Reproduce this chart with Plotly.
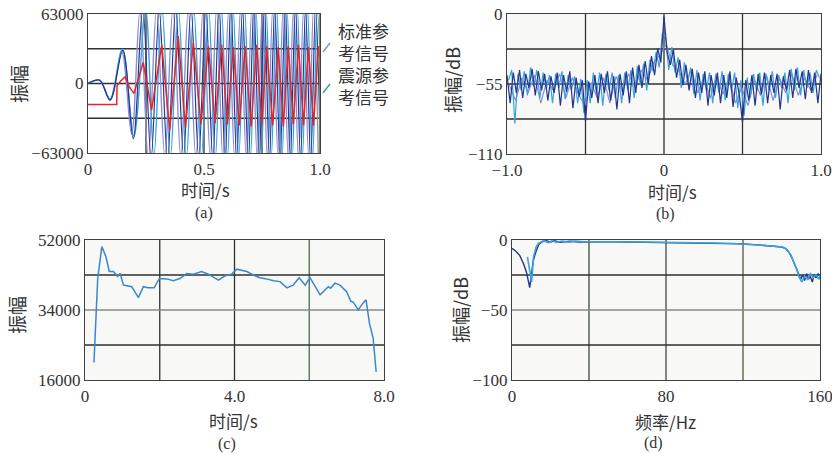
import numpy as np
import plotly.graph_objects as go

W, H = 832, 454

# ---------------- Panel (a): time series ----------------
red_t = [0, 0.124, 0.125, 0.140, 0.160, 0.178, 0.198, 0.238, 0.274, 0.318, 0.352, 0.389, 0.420, 0.454,
         0.487, 0.519, 0.548, 0.576, 0.601, 0.626, 0.652, 0.677, 0.703, 0.727, 0.749, 0.770, 0.796,
         0.820, 0.842, 0.863, 0.885, 0.907, 0.929, 0.950, 0.972, 0.993, 1.0]
red_v = [-19000, -19000, -2000, 2000, 6000, -3000, -9000, 19000, -24000, 35000, -42000, 43000, -40000,
         37000, -37000, 34000, -36000, 35000, -37000, 33000, -38000, 34000, -39000, 35000, -37000, 34000,
         -38000, 33000, -39000, 34000, -37000, 35000, -38000, 33000, -38000, 34000, 20000]

dark_t = [0, 0.05, 0.095, 0.150, 0.195, 0.236, 0.272, 0.307, 0.343, 0.378, 0.412, 0.444, 0.477, 0.508,
          0.538, 0.565, 0.591, 0.616, 0.641, 0.666, 0.691, 0.715, 0.738, 0.760, 0.782, 0.805, 0.828,
          0.850, 0.872, 0.894, 0.916, 0.938, 0.960, 0.981, 1.002]
dark_v = [0, 3000, -15000, 30000, -50000, 68000, -67000, 66000, -68000, 67000, -66000, 68000, -67000,
          66000, -68000, 67000, -66000, 68000, -67000, 66000, -68000, 67000, -66000, 68000, -67000,
          66000, -68000, 67000, -66000, 68000, -67000, 66000, -68000, 67000, -66000]

light_t = [0, 0.05, 0.095, 0.148, 0.198, 0.248, 0.284, 0.319, 0.355, 0.390, 0.424, 0.456, 0.489, 0.520,
           0.549, 0.576, 0.601, 0.626, 0.650, 0.675, 0.700, 0.724, 0.747, 0.768, 0.790, 0.813, 0.836,
           0.858, 0.880, 0.902, 0.924, 0.946, 0.968, 0.989, 1.010]
light_v = [0, 3000, -14000, 31000, -48000, 67000, -66000, 68000, -67000, 66000, -68000, 67000, -66000,
           68000, -67000, 66000, -68000, 67000, -66000, 68000, -67000, 66000, -68000, 67000, -66000,
           68000, -67000, 66000, -68000, 67000, -66000, 68000, -67000, 66000, -68000]

lav_t = [0, 0.05, 0.095, 0.145, 0.188, 0.224, 0.260, 0.295, 0.331, 0.366, 0.400, 0.432, 0.465, 0.496,
         0.527, 0.554, 0.581, 0.606, 0.632, 0.657, 0.682, 0.706, 0.729, 0.751, 0.773, 0.796, 0.819,
         0.841, 0.863, 0.885, 0.907, 0.929, 0.951, 0.972, 0.993]
lav_v = [0, 3000, -15000, 29000, -46000, 66000, -68000, 67000, -66000, 68000, -67000, 66000, -68000,
         67000, -66000, 68000, -67000, 66000, -68000, 67000, -66000, 68000, -67000, 66000, -68000,
         67000, -66000, 68000, -67000, 66000, -68000, 67000, -66000, 68000, -67000]

legend_a = ["标准参<br>考信号", "震源参<br>考信号"]

# ---------------- Panel (b): correlation in dB ----------------
b_dark_v = [-48, -70, -46, -62, -44, -66, -47, -58, -43, -64, -45, -60, -47, -68, -49, -62, -46, -72,
            -48, -61, -45, -74, -50, -65, -52, -84, -53, -66, -48, -70, -47, -62, -45, -68, -49, -75,
            -47, -64, -45, -70, -42, -62, -40, -58, -37, -55, -33, -48, -27, -38, -2, -30, -40, -28,
            -50, -36, -56, -40, -60, -43, -66, -46, -62, -45, -72, -48, -64, -46, -70, -48, -66, -45,
            -73, -50, -64, -85, -52, -68, -48, -72, -47, -63, -46, -70, -48, -62, -47, -75, -49, -60,
            -44, -66, -43, -58, -45, -67, -44, -62, -46, -70, -47]
b_light_v = [-52, -44, -86, -47, -60, -45, -64, -42, -57, -44, -66, -46, -59, -48, -70, -47, -58, -45,
             -67, -48, -60, -49, -70, -51, -78, -52, -70, -46, -63, -46, -72, -47, -60, -46, -66, -48,
             -70, -46, -60, -44, -66, -41, -56, -39, -60, -36, -45, -30, -42, -15, -18, -44, -26, -46,
             -34, -58, -38, -54, -42, -63, -44, -68, -47, -60, -46, -70, -47, -62, -45, -68, -47, -60,
             -46, -74, -52, -80, -50, -66, -47, -61, -46, -72, -47, -60, -45, -66, -48, -58, -46, -70,
             -43, -60, -42, -64, -44, -58, -46, -62, -44, -50]
b_lav_v = [-56, -68, -50, -62, -48, -70, -52, -60, -47, -66, -50, -63, -72, -54, -66, -50, -70, -49,
           -61, -47, -58, -44, -52, -38, -32, -24, -40, -45, -55, -44, -62, -50, -66, -49, -63, -50,
           -70, -58, -72, -51, -64, -49, -68, -50, -62, -47, -64, -50, -60, -48]
b_dark_t = np.round(np.linspace(-1.0, 1.0, len(b_dark_v)), 3)
b_light_t = np.round(np.linspace(-0.99, 0.99, len(b_light_v)), 3)
b_lav_t = np.round(np.linspace(-0.985, 0.975, len(b_lav_v)), 3)

# ---------------- Panel (c): envelope ----------------
c_t = [0.24, 0.29, 0.34, 0.45, 0.56, 0.65, 0.76, 0.87, 0.94, 1.03, 1.25, 1.43, 1.56, 1.69, 1.85, 1.99,
       2.19, 2.36, 2.54, 2.72, 2.90, 3.12, 3.30, 3.57, 3.75, 3.92, 4.06, 4.33, 4.50, 4.68, 4.86, 5.04,
       5.22, 5.40, 5.57, 5.73, 5.89, 6.02, 6.15, 6.29, 6.51, 6.57, 6.69, 6.82, 7.00, 7.11, 7.18, 7.31,
       7.43, 7.52, 7.61, 7.67, 7.71, 7.79]
c_v = [20500, 30200, 42100, 50300, 47700, 43900, 43900, 42600, 43400, 40400, 40000, 37200, 40000,
       39700, 39700, 42100, 42000, 41500, 42100, 43400, 43200, 43900, 43200, 41700, 42800, 43200,
       44500, 43900, 43000, 42300, 42000, 41500, 41300, 39700, 40400, 42300, 40400, 42300, 40000,
       37900, 40000, 39600, 40900, 40400, 38700, 36300, 36000, 34000, 35700, 36600, 30600, 28000,
       26700, 18100]

# ---------------- Panel (d): spectrum ----------------
d_dark_f = [0, 2, 4, 6, 7.5, 8.5, 9.2, 10, 11, 12.5, 14, 16, 18, 20, 22, 25, 30, 35, 40, 50, 60, 70,
            80, 90, 100, 110, 120, 128, 134, 140, 142, 144, 145.5, 147, 148, 149, 150, 151, 152, 153,
            154, 155, 156, 157, 158, 159, 160]
d_dark_v = [-6, -8, -11, -17, -23, -29, -34, -26, -15, -8, -3, -1, -0.5, -1.5, -0.6, -1.6, -0.9, -1.4,
            -1.2, -1.3, -1.4, -1.6, -1.6, -1.8, -2.0, -2.2, -2.8, -3.5, -4.2, -5.0, -6.0, -9.0, -13,
            -18, -22, -25, -28, -25, -29, -24, -28, -26, -30, -25, -27, -24, -26]
d_light_f = [8, 9, 10.2, 11.2, 12.5, 13.8, 16.4, 19, 21, 23, 26, 29, 33, 38, 45, 55, 65, 75, 85, 95,
             105, 115, 125, 132, 138, 141, 143, 145, 146.5, 148, 149, 150.5, 152, 153.5, 155, 156.5,
             158, 159.5, 160]
d_light_v = [-12, -20, -30, -12, -5, -2.4, -0.5, -1.8, -0.4, -1.7, -0.7, -1.5, -0.8, -1.3, -1.1, -1.2,
             -1.4, -1.5, -1.7, -1.9, -2.1, -2.5, -3.2, -3.9, -4.6, -5.2, -7, -11, -16, -21, -26, -30,
             -26, -28, -24, -27, -25, -28, -25]

# ---------------- Figure ----------------
fig = go.Figure()

C_DARK = "#25348f"
C_LIGHT = "#38a4dc"
C_LAV = "#8c8ed2"
C_RED = "#e3262c"

fig.add_trace(go.Scatter(x=lav_t, y=lav_v, mode="lines", line=dict(color=C_LAV, width=1.4, shape="spline"),
                         xaxis="x", yaxis="y", showlegend=False))
fig.add_trace(go.Scatter(x=light_t, y=light_v, mode="lines", line=dict(color=C_LIGHT, width=1.4, shape="spline"),
                         xaxis="x", yaxis="y", showlegend=False))
fig.add_trace(go.Scatter(x=dark_t, y=dark_v, mode="lines", line=dict(color=C_DARK, width=1.2, shape="spline"),
                         xaxis="x", yaxis="y", showlegend=False))
fig.add_trace(go.Scatter(x=red_t, y=red_v, mode="lines", line=dict(color=C_RED, width=1.5),
                         xaxis="x", yaxis="y", showlegend=False))

fig.add_trace(go.Scatter(x=b_lav_t, y=b_lav_v, mode="lines", line=dict(color=C_LAV, width=1.2),
                         xaxis="x2", yaxis="y2", showlegend=False))
fig.add_trace(go.Scatter(x=b_light_t, y=b_light_v, mode="lines", line=dict(color=C_LIGHT, width=1.2),
                         xaxis="x2", yaxis="y2", showlegend=False))
fig.add_trace(go.Scatter(x=b_dark_t, y=b_dark_v, mode="lines", line=dict(color=C_DARK, width=1.2),
                         xaxis="x2", yaxis="y2", showlegend=False))

fig.add_trace(go.Scatter(x=c_t, y=c_v, mode="lines", line=dict(color="#3a86cf", width=1.5),
                         xaxis="x3", yaxis="y3", showlegend=False))

fig.add_trace(go.Scatter(x=d_dark_f, y=d_dark_v, mode="lines", line=dict(color=C_DARK, width=1.4),
                         xaxis="x4", yaxis="y4", showlegend=False))
fig.add_trace(go.Scatter(x=d_light_f, y=d_light_v, mode="lines", line=dict(color=C_LIGHT, width=1.6),
                         xaxis="x4", yaxis="y4", showlegend=False))


def fx(p):
    return p / W


def fy(p):
    return 1 - p / H


TICKFONT = dict(family="Liberation Serif, serif", size=17, color="#333333")
CJK = "Noto Sans CJK SC, sans-serif"


def xax(domain, rng, vals, texts, anchor):
    return dict(domain=domain, range=rng, tickvals=vals, ticktext=texts, anchor=anchor,
                showgrid=False, zeroline=False, automargin=False, ticklabeloverflow="allow",
                showline=True, linecolor="#404040", linewidth=1.3, mirror=True,
                ticks="", tickfont=TICKFONT)


def yax(domain, rng, vals, texts, anchor):
    return dict(domain=domain, range=rng, tickvals=vals, ticktext=texts, anchor=anchor,
                showgrid=False, zeroline=False, automargin=False, ticklabeloverflow="allow",
                showline=True, linecolor="#404040", linewidth=1.3, mirror=True,
                ticks="", tickfont=TICKFONT)


fig.update_layout(
    width=W, height=H, autosize=False,
    margin=dict(l=0, r=0, t=0, b=0, pad=0, autoexpand=False),
    paper_bgcolor="white", plot_bgcolor="#f8f8f6",
    xaxis=xax([fx(88), fx(320)], [0, 1.0], [0, 0.5, 1.0], ["0", "0.5", "1.0"], "y"),
    yaxis=yax([fy(153), fy(14)], [-63000, 63000], [-63000, 0, 63000], ["−63000", "0", "63000"], "x"),
    xaxis2=xax([fx(507), fx(821)], [-1.0, 1.0], [-1.0, 0, 1.0], ["−1.0", "0", "1.0"], "y2"),
    yaxis2=yax([fy(154), fy(14)], [-110, 0], [-110, -55, 0], ["−110", "−55", "0"], "x2"),
    xaxis3=xax([fx(85), fx(384)], [0, 8.0], [0, 4, 8], ["0", "4.0", "8.0"], "y3"),
    yaxis3=yax([fy(380), fy(240)], [16000, 52000], [16000, 34000, 52000], ["16000", "34000", "52000"], "x3"),
    xaxis4=xax([fx(512), fx(820)], [0, 160], [0, 80, 160], ["0", "80", "160"], "y4"),
    yaxis4=yax([fy(380), fy(240)], [-100, 0], [-100, -50, 0], ["−100", "−50", "0"], "x4"),
)

GRID = "#303030"
GRID_GRAY = "#8a8a8a"
GRID_GREEN = "#4d6a4d"

# grid layout per panel: (x axis, y axis, vertical lines, horizontal lines)
grid_spec = [
    ("x", "y", [(0.25, GRID), (0.5, GRID), (0.75, GRID)], [(-31500, GRID), (0, GRID), (31500, GRID)]),
    ("x2", "y2", [(-0.5, GRID), (0, GRID), (0.5, GRID)], [(-82.5, GRID), (-55, GRID), (-27.5, GRID)]),
    ("x3", "y3", [(2, GRID), (4, GRID), (6, GRID_GREEN)], [(25000, GRID), (34000, GRID_GRAY), (43000, GRID)]),
    ("x4", "y4", [(40, "#3c4a3c"), (80, "#3c4a3c"), (120, "#4d5a3c")], [(-75, GRID), (-50, GRID_GRAY), (-25, GRID)]),
]

shapes = [
    dict(type="rect", xref="x domain", yref="y domain", x0=0, x1=1, y0=0, y1=1,
         fillcolor="white", line=dict(width=0), layer="below"),
]
for xa, ya, vlines, hlines in grid_spec:
    for v, col in vlines:
        shapes.append(dict(type="line", xref=xa, yref=f"{ya} domain", x0=v, x1=v, y0=0, y1=1,
                           line=dict(color=col, width=1.3), layer="below"))
    for h, col in hlines:
        shapes.append(dict(type="line", xref=f"{xa} domain", yref=ya, x0=0, x1=1, y0=h, y1=h,
                           line=dict(color=col, width=1.3), layer="below"))

shapes += [
    dict(type="line", xref="x", yref="y domain", x0=1.0, x1=1.0, y0=0, y1=1,
         line=dict(color="#7d8a3a", width=1.8), layer="above"),
    # legend markers
    dict(type="line", xref="paper", yref="paper", x0=fx(323), x1=fx(330), y0=fy(52), y1=fy(43),
         line=dict(color="#6f9fd6", width=1.5)),
    dict(type="line", xref="paper", yref="paper", x0=fx(323), x1=fx(330), y0=fy(93), y1=fy(84),
         line=dict(color="#3a9fb0", width=1.5)),
]
fig.update_layout(shapes=shapes)


def ann(text, x, y, size=18, angle=0, xanchor="center", align="center", family=CJK):
    return dict(text=text, x=fx(x), y=fy(y), xref="paper", yref="paper", showarrow=False,
                font=dict(family=family, size=size, color="#333333"), textangle=angle,
                xanchor=xanchor, yanchor="middle", align=align)


annotations = [
    ann("时间/s", 205, 190, size=17),
    ann("振幅", 18, 84, size=19, angle=-90),
    ann("(a)", 204, 213, size=16, family="Liberation Serif, serif"),
    ann("<br>".join(legend_a), 336, 64, size=17, xanchor="left", align="left"),
    ann("时间/s", 672, 191, size=17),
    ann("振幅/dB", 452, 80, angle=-90),
    ann("(b)", 665, 214, size=16, family="Liberation Serif, serif"),
    ann("时间/s", 233, 420, size=17),
    ann("振幅", 16, 315, size=19, angle=-90),
    ann("(c)", 227, 444, size=16, family="Liberation Serif, serif"),
    ann("频率/Hz", 665, 421, size=17),
    ann("振幅/dB", 460, 310, angle=-90),
    ann("(d)", 653, 443, size=16, family="Liberation Serif, serif"),
]
fig.update_layout(annotations=annotations)

# remove the default 8px page margin so the figure fills the window exactly
fig.write_html("out.html", config={"displayModeBar": False},
               post_script="document.body.style.margin='0px';")
